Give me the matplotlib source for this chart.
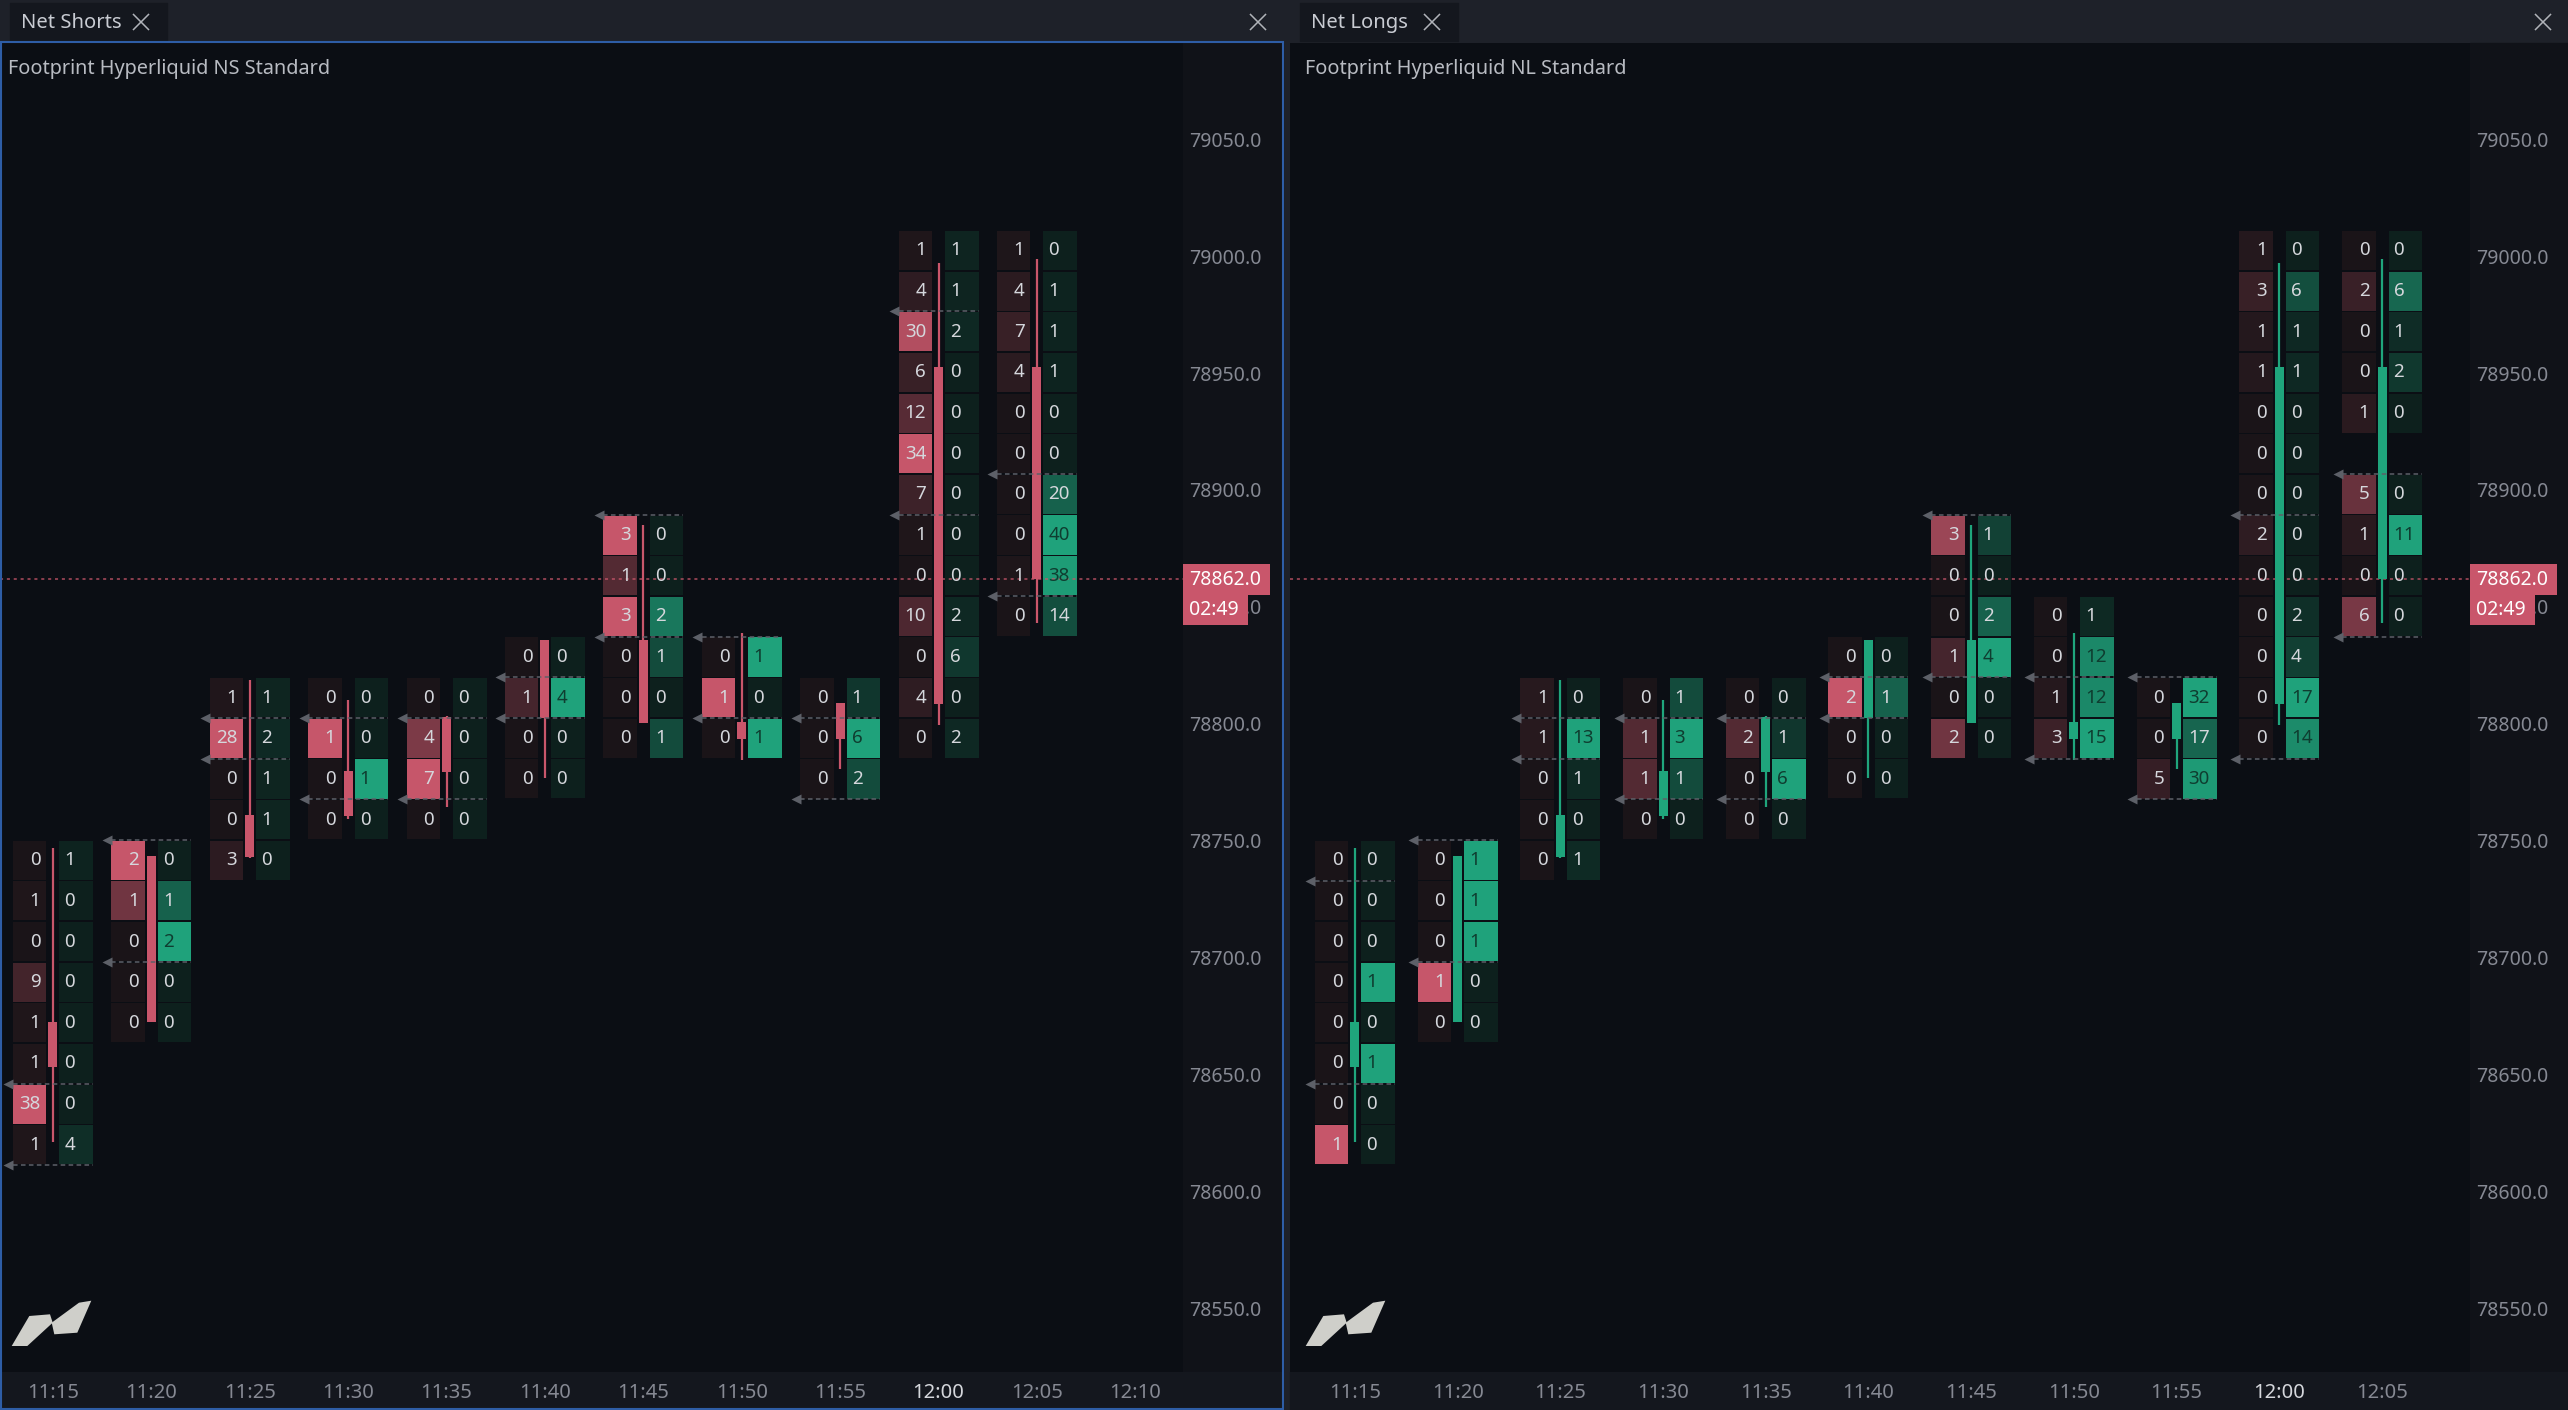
import matplotlib
matplotlib.use("Agg")
import matplotlib.pyplot as plt
from matplotlib.patches import Rectangle, Polygon

plt.rcParams['font.family'] = ['Noto Sans', 'DejaVu Sans']

#%% Data
times = ["11:15", "11:20", "11:25", "11:30", "11:35", "11:40",
         "11:45", "11:50", "11:55", "12:00", "12:05"]
opens = [78653.4, 78672.6, 78743.1, 78760.6, 78779.5, 78802.5,
         78835.9, 78800.8, 78793.5, 78808.5, 78952.6]
closes = [78672.6, 78743.5, 78761.0, 78779.9, 78803.0, 78835.9,
          78800.4, 78793.5, 78808.9, 78952.6, 78862.0]
highs = [78747.0, 78743.5, 78818.8, 78810.2, 78803.4, 78835.9,
         78885.0, 78838.9, 78808.9, 78997.1, 78998.8]
lows = [78621.3, 78672.6, 78742.7, 78759.4, 78764.5, 78776.9,
        78800.4, 78784.6, 78780.7, 78799.5, 78843.1]
last_price = 78862.0
countdown = "02:49"
row_size = 17.38

price_ticks = [78550, 78600, 78650, 78700, 78750, 78800, 78850,
               78900, 78950, 79000, 79050]
ns_time_ticks = ["11:15", "11:20", "11:25", "11:30", "11:35", "11:40",
                 "11:45", "11:50", "11:55", "12:00", "12:05", "12:10"]
nl_time_ticks = ["11:15", "11:20", "11:25", "11:30", "11:35", "11:40",
                 "11:45", "11:50", "11:55", "12:00", "12:05"]

# Net Shorts footprint (price of top row, left / right column values)
ns_top = [78741.7, 78741.7, 78811.2, 78811.2, 78811.2, 78828.6,
          78880.7, 78828.6, 78811.2, 79002.4, 79002.4]
ns_left = [[0, 1, 0, 9, 1, 1, 38, 1],
           [2, 1, 0, 0, 0],
           [1, 28, 0, 0, 3],
           [0, 1, 0, 0],
           [0, 4, 7, 0],
           [0, 1, 0, 0],
           [3, 1, 3, 0, 0, 0],
           [0, 1, 0],
           [0, 0, 0],
           [1, 4, 30, 6, 12, 34, 7, 1, 0, 10, 0, 4, 0],
           [1, 4, 7, 4, 0, 0, 0, 0, 1, 0]]
ns_right = [[1, 0, 0, 0, 0, 0, 0, 4],
            [0, 1, 2, 0, 0],
            [1, 2, 1, 1, 0],
            [0, 0, 1, 0],
            [0, 0, 0, 0],
            [0, 4, 0, 0],
            [0, 0, 2, 1, 0, 1],
            [1, 0, 1],
            [1, 6, 2],
            [1, 1, 2, 0, 0, 0, 0, 0, 0, 2, 6, 0, 2],
            [0, 1, 1, 1, 0, 0, 20, 40, 38, 14]]
ns_va = [(6, 7), (0, 2), (1, 1), (1, 2), (1, 2), (1, 1),
         (0, 2), (0, 1), (1, 2), (2, 6), (6, 8)]

# Net Longs footprint
nl_top = [78741.7, 78741.7, 78811.2, 78811.2, 78811.2, 78828.6,
          78880.7, 78846.0, 78811.2, 79002.4, 79002.4]
nl_left = [[0, 0, 0, 0, 0, 0, 0, 1],
           [0, 0, 0, 1, 0],
           [1, 1, 0, 0, 0],
           [0, 1, 1, 0],
           [0, 2, 0, 0],
           [0, 2, 0, 0],
           [3, 0, 0, 1, 0, 2],
           [0, 0, 1, 3],
           [0, 0, 5],
           [1, 3, 1, 1, 0, 0, 0, 2, 0, 0, 0, 0, 0],
           [0, 2, 0, 0, 1, None, 5, 1, 0, 6]]
nl_right = [[0, 0, 0, 1, 0, 1, 0, 0],
            [1, 1, 1, 0, 0],
            [0, 13, 1, 0, 1],
            [1, 3, 1, 0],
            [0, 1, 6, 0],
            [0, 1, 0, 0],
            [1, 0, 2, 4, 0, 0],
            [1, 12, 12, 15],
            [32, 17, 30],
            [0, 6, 1, 1, 0, 0, 0, 0, 0, 2, 4, 17, 14],
            [0, 6, 1, 2, 0, None, 0, 11, 0, 0]]
nl_va = [(1, 5), (0, 2), (1, 1), (1, 2), (1, 2), (1, 1),
         (0, 3), (2, 3), (0, 2), (7, 12), (6, 9)]

#%% Style
W, H = 2568, 1410
BAR = "#1e2129"
TAB = "#14171e"
CHART_BG = "#0b0e14"
AXIS_BG = "#101218"
STRIP_BG = "#14171e"
BLUE = "#2e5da6"
RED = "#c9566b"
GREEN = "#1fa57c"
VA_COL = "#5d6068"
LABEL_COL = "#868993"
TEXT_COL = "#d5d7dc"
red_lo, red_hi = (26, 20, 24), (198, 86, 106)
green_lo, green_hi = (13, 32, 29), (31, 162, 123)

CHART_TOP, CHART_BOT = 43, 1372
YLIM = (78522.9, 79091.1)
CW, GAP, BODY = 33.5, 6.5, 9.0


def mix(lo, hi, t):
    return tuple((a + (b - a) * t) / 255 for a, b in zip(lo, hi))


def to_min(s):
    h, m = s.split(":")
    return int(h) * 60 + int(m) - (11 * 60 + 15)


def price_to_px(p):
    return CHART_TOP + (YLIM[1] - p) / (YLIM[1] - YLIM[0]) * (CHART_BOT - CHART_TOP)


fig = plt.figure(figsize=(W / 100, H / 100), dpi=100)
fig.patch.set_facecolor(BAR)

bg = fig.add_axes([0, 0, 1, 1], zorder=-1)
bg.set_xlim(0, W)
bg.set_ylim(H, 0)
bg.axis("off")
fg = fig.add_axes([0, 0, 1, 1], zorder=5)
fg.set_xlim(0, W)
fg.set_ylim(H, 0)
fg.axis("off")


def close_x(ax, x, y, s=7.5):
    ax.plot([x - s, x + s], [y - s, y + s], color="#b0b3b9", lw=1.1)
    ax.plot([x - s, x + s], [y + s, y - s], color="#b0b3b9", lw=1.1)


def draw_panel(x0, x1, ax_x1, xlim, left_vals, right_vals, tops, va_rows,
               candle_col, tab_name, tab_w, title, tick_names, logo_dx):
    # backgrounds
    bg.add_patch(Rectangle((ax_x1, CHART_TOP), x1 - ax_x1, CHART_BOT - CHART_TOP, color=AXIS_BG))
    bg.add_patch(Rectangle((x0, CHART_BOT), x1 - x0, H - CHART_BOT, color=STRIP_BG))
    bg.add_patch(Rectangle((x0 + 10, 3), tab_w, 38, color=TAB))
    bg.text(x0 + 21, 23, tab_name, color="#c9ccd3", fontsize=14.5, va="center")
    close_x(bg, x0 + tab_w - 16, 22)
    close_x(bg, x1 - 25, 22)

    px_w = ax_x1 - x0
    ax = fig.add_axes([x0 / W, 1 - CHART_BOT / H, px_w / W, (CHART_BOT - CHART_TOP) / H])
    ax.set_facecolor(CHART_BG)
    ax.set_xlim(*xlim)
    ax.set_ylim(*YLIM)
    for sp in ax.spines.values():
        sp.set_visible(False)
    xpp = (xlim[1] - xlim[0]) / px_w
    ypp = (YLIM[1] - YLIM[0]) / (CHART_BOT - CHART_TOP)

    for i, t in enumerate(times):
        xc = to_min(t)
        lv, rv = left_vals[i], right_vals[i]
        vmax = max(v for v in lv + rv if v is not None)
        xl0, xl1 = xc - (GAP + CW) * xpp, xc - GAP * xpp
        xr0, xr1 = xc + GAP * xpp, xc + (GAP + CW) * xpp
        for j, (a, b) in enumerate(zip(lv, rv)):
            if a is None:
                continue
            p = tops[i] - j * row_size
            y0 = p - row_size / 2 + 0.8 * ypp
            hh = row_size - 1.6 * ypp
            ta, tb = a / vmax, b / vmax
            ax.add_patch(Rectangle((xl0, y0), CW * xpp, hh, color=mix(red_lo, red_hi, ta), lw=0))
            ax.add_patch(Rectangle((xr0, y0), CW * xpp, hh, color=mix(green_lo, green_hi, tb), lw=0))
            ax.text(xl1 - 6 * xpp, p, str(a), ha="right", va="center",
                    color=TEXT_COL, fontsize=13.5, zorder=6)
            ax.text(xr0 + 5 * xpp, p, str(b), ha="left", va="center",
                    color="#0f3d30" if tb > 0.75 else TEXT_COL, fontsize=13.5, zorder=6)

        # candle
        ax.vlines(xc, lows[i], highs[i], color=candle_col, lw=1.6, zorder=4)
        lo_b = min(opens[i], closes[i])
        hb = max(abs(closes[i] - opens[i]), 2 * ypp)
        ax.add_patch(Rectangle((xc - BODY / 2 * xpp, lo_b), BODY * xpp, hb,
                               color=candle_col, lw=0, zorder=4))

        # value area markers
        va0, va1 = va_rows[i]
        for y in (tops[i] - va0 * row_size + row_size / 2,
                  tops[i] - va1 * row_size - row_size / 2):
            ax.plot([xl0, xr1], [y, y], color=VA_COL, lw=1.1, dashes=(3, 2.2), zorder=5)
            ax.plot(xl0 - 4.5 * xpp, y, marker="<", ms=7, color=VA_COL, mec="none", zorder=5)

    # last price line
    ax.axhline(last_price, color=RED, lw=1.1, dashes=(2, 2.5), alpha=0.85, zorder=3)

    # axes / ticks
    ax.set_yticks(price_ticks)
    ax.set_yticklabels([f"{p:.1f}" for p in price_ticks])
    ax.yaxis.tick_right()
    ax.tick_params(axis="y", length=0, pad=4.3, labelsize=14, labelcolor=LABEL_COL)
    ax.set_xticks([to_min(s) for s in tick_names])
    ax.set_xticklabels(tick_names)
    ax.tick_params(axis="x", length=0, pad=8, labelsize=14.5, labelcolor=LABEL_COL)
    for lab in ax.get_xticklabels():
        if lab.get_text() == "12:00":
            lab.set_color(TEXT_COL)

    # overlay: title, price boxes, logo
    fg.text(x0 + (8 if x0 == 0 else 15), 69, title, color="#b8bbc2", fontsize=14.3, va="center")
    yp = price_to_px(last_price)
    fg.add_patch(Rectangle((ax_x1, yp - 15), 87, 31, color=RED, lw=0))
    fg.add_patch(Rectangle((ax_x1, yp + 15), 65, 31, color=RED, lw=0))
    fg.text(ax_x1 + 6, yp + 1, f"{last_price:.1f}", color="white", fontsize=14, va="center")
    fg.text(ax_x1 + 6, yp + 31, countdown, color="white", fontsize=14, va="center")
    logo_a = [(11.7, 1346), (29.3, 1316), (50, 1314.3), (52.7, 1322.7), (27.3, 1346)]
    logo_b = [(51.7, 1322.7), (79, 1302.7), (91.3, 1300.7), (77.3, 1332.7), (54.3, 1334.3)]
    for pts in (logo_a, logo_b):
        fg.add_patch(Polygon([(x + logo_dx, y) for x, y in pts], closed=True,
                             color="#cfcfca", lw=0))
    return ax


#%% Panels
draw_panel(0, 1283, 1183, (-2.69, 57.42), ns_left, ns_right, ns_top, ns_va,
           RED, "Net Shorts", 157, "Footprint Hyperliquid NS Standard", ns_time_ticks, 0)
draw_panel(1290, 2568, 2470, (-3.16, 54.28), nl_left, nl_right, nl_top, nl_va,
           GREEN, "Net Longs", 158, "Footprint Hyperliquid NL Standard", nl_time_ticks, 1294)

# active panel border
fg.add_patch(Rectangle((1, 41.5), 1281.5, 1367.5, fill=False, ec=BLUE, lw=1.5))

fig.savefig("out.png", dpi=100, facecolor=fig.get_facecolor())
